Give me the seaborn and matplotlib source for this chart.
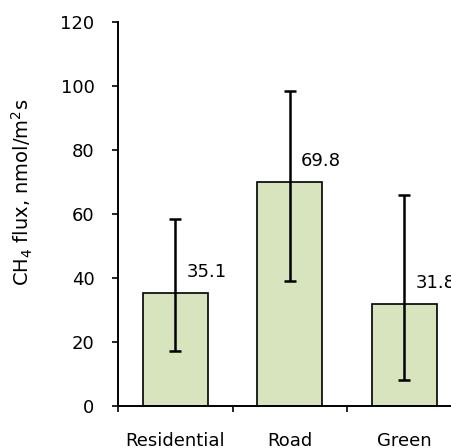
import numpy as np
import pandas as pd
import matplotlib
matplotlib.use('Agg')
import matplotlib.pyplot as plt
import seaborn as sns

# data
sites = ['Residential', 'Road', 'Green']
flux = [35.1, 69.8, 31.8]
err_low = [17.2, 39.1, 8.0]
err_high = [58.2, 98.2, 65.8]

df = pd.DataFrame({'site': sites, 'flux': flux})

sns.set_style('white')
plt.rcParams['font.family'] = ['DejaVu Sans']
plt.rcParams['mathtext.fontset'] = 'dejavusans'
plt.rcParams['text.color'] = 'black'
plt.rcParams['xtick.color'] = 'black'
plt.rcParams['ytick.color'] = 'black'

fig = plt.figure(figsize=(4.52, 4.48), dpi=100)
ax = fig.add_axes([118 / 452, 42.3 / 448, 343.5 / 452, 384 / 448])

sns.barplot(data=df, x='site', y='flux', color='#D7E4BD', saturation=1,
            edgecolor='black', linewidth=1.2, width=0.57, errorbar=None, ax=ax)

x = np.arange(len(sites))
lower = np.array(flux) - np.array(err_low)
upper = np.array(err_high) - np.array(flux)
ax.errorbar(x, flux, yerr=[lower, upper], fmt='none', ecolor='black',
            elinewidth=1.8, capsize=4.5, capthick=1.8)

for i, v in enumerate(flux):
    ax.text(i + 0.1, v + 6.7, f'{v}', fontsize=13, ha='left', va='center',
            color='black')

ax.set_xlim(-0.5, 2.5)
ax.set_ylim(0, 120)
ax.set_yticks(range(0, 121, 20))
ax.tick_params(axis='y', labelsize=13, direction='out', length=4, width=1.2,
               left=True, pad=13, color='black', labelcolor='black')

ax.set_xticks([-0.5, 0.5, 1.5, 2.5])
ax.set_xticklabels([])
ax.set_xticks(x, minor=True)
ax.set_xticklabels(sites, minor=True)
ax.tick_params(axis='x', which='major', direction='out', length=4, width=1.2,
               bottom=True, color='black')
ax.tick_params(axis='x', which='minor', length=0, labelsize=13, pad=19,
               labelcolor='black')

ax.set_xlabel('')
ax.set_ylabel('')
fig.text(22 / 452, 1 - 192 / 448, r'CH$_4$ flux, nmol/m$^2$s', rotation=90,
         ha='center', va='center', fontsize=14, color='black')

for s in ['top', 'right']:
    ax.spines[s].set_visible(False)
for s in ['left', 'bottom']:
    ax.spines[s].set_color('black')
    ax.spines[s].set_linewidth(1.4)

fig.savefig('out.png', dpi=100)
